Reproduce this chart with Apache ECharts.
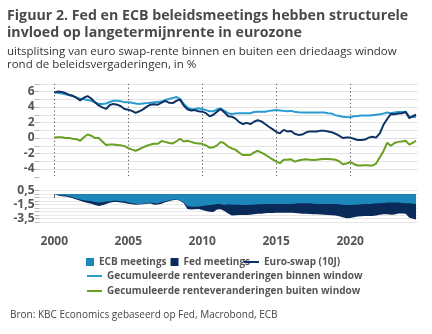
<!DOCTYPE html>
<html>
<head>
<meta charset="utf-8">
<script src="https://cdn.jsdelivr.net/npm/echarts@6/dist/echarts.min.js"></script>
<style>html,body{margin:0;padding:0;background:#fff}#c{width:432px;height:334px}</style>
</head>
<body>
<div id="c"></div>
<script>
// Time axis: decimal years (quarterly readings)
const years = [
2000,2000.25,2000.5,2000.75, 2001,2001.25,2001.5,2001.75, 2002,2002.25,2002.5,2002.75,
2003,2003.25,2003.5,2003.75, 2004,2004.25,2004.5,2004.75, 2005,2005.25,2005.5,2005.75,
2006,2006.25,2006.5,2006.75, 2007,2007.25,2007.5,2007.75, 2008,2008.25,2008.5,2008.75,
2009,2009.25,2009.5,2009.75, 2010,2010.25,2010.5,2010.75, 2011,2011.25,2011.5,2011.75,
2012,2012.25,2012.5,2012.75, 2013,2013.25,2013.5,2013.75, 2014,2014.25,2014.5,2014.75,
2015,2015.25,2015.5,2015.75, 2016,2016.25,2016.5,2016.75, 2017,2017.25,2017.5,2017.75,
2018,2018.25,2018.5,2018.75, 2019,2019.25,2019.5,2019.75, 2020,2020.25,2020.5,2020.75,
2021,2021.25,2021.5,2021.75, 2022,2022.25,2022.5,2022.75, 2023,2023.25,2023.5,2023.75,
2024,2024.25,2024.45];

// Euro-swap (10J), %
const swap = [
5.85,6.0,5.95,5.8, 5.55,5.45,5.2,4.85, 5.2,5.4,5.1,4.6,
4.2,3.95,3.75,4.25, 4.4,4.3,4.1,3.75, 3.65,3.5,3.25,3.45,
3.7,4.05,4.3,4.35, 4.3,4.55,4.8,4.55, 4.5,4.8,4.95,4.2,
3.7,3.55,3.6,3.45, 3.4,3.2,2.8,3.0, 3.4,3.75,3.3,2.8,
2.75,2.5,2.05,1.8, 1.95,1.8,2.1,2.3, 2.15,1.8,1.45,1.15,
0.8,0.6,1.05,0.85, 0.9,0.55,0.4,0.45, 0.7,0.85,0.85,0.85,
0.95,0.95,0.85,0.75, 0.55,0.3,0.0,0.05, 0.05,-0.1,-0.25,-0.25,
-0.2,0.05,0.15,0.05, 0.6,1.7,2.45,3.1, 3.05,3.15,3.2,3.35,
2.55,2.85,3.0];

// Gecumuleerde renteveranderingen binnen window
const binnen = [
5.9,5.85,5.75,5.65, 5.55,5.42,5.2,5.05, 5.0,4.9,4.8,4.6,
4.4,4.4,4.45,4.65, 4.8,4.8,4.75,4.6, 4.6,4.55,4.45,4.4,
4.45,4.5,4.55,4.6, 4.65,4.7,4.9,5.05, 5.15,5.3,5.05,4.4,
3.95,3.7,3.75,3.85, 3.75,3.6,3.45,3.45, 3.7,3.8,3.5,3.2,
3.1,3.15,3.2,3.2, 3.2,3.2,3.35,3.4, 3.4,3.4,3.5,3.55,
3.6,3.55,3.5,3.45, 3.5,3.4,3.32,3.3, 3.3,3.3,3.3,3.3,
3.3,3.28,3.2,3.15, 2.95,2.85,2.75,2.7, 2.68,2.8,2.85,2.9,
2.9,2.9,2.95,3.0, 3.05,3.15,3.3,3.2, 3.3,3.35,3.35,3.4,
2.75,2.7,2.7];

// Gecumuleerde renteveranderingen buiten window
const buiten = [
0.05,0.1,0.1,0.0, 0.0,-0.1,-0.15,-0.35, 0.1,0.45,0.3,0.0,
0.0,-0.45,-0.9,-0.85, -0.85,-0.9,-0.95,-1.05, -1.3,-1.5,-1.65,-1.45,
-1.2,-1.0,-0.85,-0.75, -0.75,-0.4,-0.5,-0.65, -0.7,-0.45,-0.1,-0.45,
-0.35,-0.5,-0.65,-0.7, -0.75,-0.95,-1.25,-1.2, -0.95,-0.5,-0.7,-1.1,
-1.35,-1.5,-1.9,-2.2, -2.2,-2.2,-1.85,-1.65, -1.9,-2.15,-2.45,-2.75,
-3.05,-3.25,-2.8,-2.8, -2.75,-3.05,-2.9,-2.8, -2.75,-2.8,-2.85,-2.8,
-2.75,-2.7,-2.7,-2.75, -2.8,-3.0,-3.4,-3.3, -3.1,-3.35,-3.55,-3.55,
-3.5,-3.55,-3.55,-3.3, -2.5,-1.7,-0.6,-1.0, -0.65,-0.5,-0.45,-0.35,
-0.85,-0.6,-0.35];

// ECB meetings (cumulative contribution)
const ecb = [
0,-0.1,-0.15,-0.2, -0.3,-0.45,-0.6,-0.75, -0.85,-0.95,-1.0,-1.1,
-1.2,-1.15,-1.05,-1.0, -0.95,-0.95,-1.0,-1.05, -1.15,-1.3,-1.35,-1.4,
-1.35,-1.25,-1.2,-1.3, -1.3,-1.15,-1.0,-0.9, -0.75,-0.75,-0.85,-1.2,
-1.7,-1.8,-1.8,-1.75, -1.7,-1.6,-1.55,-1.5, -1.4,-1.45,-1.55,-1.45,
-1.5,-1.5,-1.5,-1.55, -1.55,-1.5,-1.5,-1.45, -1.45,-1.4,-1.4,-1.4,
-1.4,-1.4,-1.4,-1.4, -1.4,-1.35,-1.3,-1.3, -1.3,-1.3,-1.35,-1.4,
-1.4,-1.4,-1.4,-1.4, -1.4,-1.45,-1.5,-1.55, -1.55,-1.5,-1.5,-1.45,
-1.4,-1.4,-1.35,-1.3, -1.3,-1.25,-1.2,-1.2, -1.2,-1.2,-1.25,-1.3,
-1.3,-1.35,-1.4];

// Fed meetings (cumulative contribution, stacked under ECB)
const fed = [
0,-0.1,-0.13,-0.13, -0.15,-0.13,-0.15,-0.18, -0.25,-0.3,-0.38,-0.45,
-0.48,-0.43,-0.35,-0.22, -0.15,-0.15,-0.18,-0.2, -0.2,-0.15,-0.17,-0.08,
-0.07,-0.1,-0.12,-0.2, -0.18,-0.2,-0.15,-0.1, -0.1,-0.05,-0.08,-0.1,
-0.4,-0.4,-0.35,-0.35, -0.55,-0.8,-0.95,-1.05, -0.8,-0.7,-0.85,-1.3,
-1.55,-1.5,-1.47,-1.42, -1.42,-1.45,-1.38,-1.35, -1.33,-1.33,-1.3,-1.28,
-1.25,-1.25,-1.25,-1.24, -1.25,-1.35,-1.43,-1.48, -1.5,-1.53,-1.5,-1.47,
-1.5,-1.53,-1.57,-1.6, -1.65,-1.7,-1.8,-1.9, -1.85,-1.8,-1.7,-1.7,
-1.7,-1.7,-1.75,-1.75, -1.65,-1.6,-1.65,-1.75, -1.7,-1.55,-1.5,-1.48,
-2.05,-2.15,-2.2];

const yearTicks = [2000, 2005, 2010, 2015, 2020];
const topLabels = [6, 4, 2, 0, -2, -4];
const bottomLabels = [0.5, -1.5, -3.5];

const C_ECB = '#1d87b9', C_FED = '#0a2b5a', C_SWAP = '#0d3263', C_BIN = '#2a9bd1', C_BUI = '#69a022';
const FONT = 'Open Sans';
const zip = (xs, ys) => xs.map((x, i) => [x, ys[i]]);
// Fed area is stacked below the ECB area: its lower edge is the sum of both contributions
const fedStackEdge = ecb.map((v, i) => v + fed[i]);
const SQ = 'path://M0,0H8V8H0Z';
const LN = 'path://M0,0H15V2H0Z';

const chart = echarts.init(document.getElementById('c'), null, {renderer: 'canvas'});
const legendText = {fontSize: 10, fontWeight: 'bold', color: '#555', fontFamily: FONT};
const legendBase = {padding: 0, selectedMode: false, textStyle: legendText, itemStyle: {borderWidth: 0}};
chart.setOption({
  animation: false,
  textStyle: {fontFamily: FONT},
  title: [
    {text: 'Figuur 2. Fed en ECB beleidsmeetings hebben structurele\ninvloed op langetermijnrente in eurozone',
     left: 7, top: 7, padding: 0,
     textStyle: {fontSize: 14.2, fontWeight: 'bold', color: '#4a4a4a', lineHeight: 17, fontFamily: FONT}},
    {text: 'uitsplitsing van euro swap-rente binnen en buiten een driedaags window\nrond de beleidsvergaderingen, in %',
     left: 7, top: 45, padding: 0,
     textStyle: {fontSize: 11.5, fontWeight: 'normal', color: '#333', lineHeight: 13.3, fontFamily: FONT}},
    {text: 'Bron: KBC Economics gebaseerd op Fed, Macrobond, ECB',
     left: 10, top: 310, padding: 0,
     textStyle: {fontSize: 10, fontWeight: 'normal', color: '#444', fontFamily: FONT}}
  ],
  legend: [
    Object.assign({data: [{name: 'ECB meetings', icon: SQ}, {name: 'Fed meetings', icon: SQ}], left: 86, top: 257,
     itemWidth: 8, itemHeight: 8, itemGap: 4}, legendBase),
    Object.assign({data: [{name: 'Euro-swap (10J)', icon: LN}], left: 244, top: 257,
     itemWidth: 15, itemHeight: 8}, legendBase),
    Object.assign({data: [{name: 'Gecumuleerde renteveranderingen binnen window', icon: LN}], left: 87, top: 271,
     itemWidth: 15, itemHeight: 8}, legendBase),
    Object.assign({data: [{name: 'Gecumuleerde renteveranderingen buiten window', icon: LN}], left: 87, top: 286,
     itemWidth: 15, itemHeight: 8}, legendBase)
  ],
  grid: [
    {left: 39.5, right: 14.5, top: 83.75, height: 93},
    {left: 39.5, right: 14.5, top: 190.7, height: 31.5}
  ],
  xAxis: [
    {type: 'value', gridIndex: 0, min: 1999, max: 2024.55, show: false},
    {type: 'value', gridIndex: 1, min: 1999, max: 2024.55, offset: 7,
     axisLine: {show: false}, splitLine: {show: false},
     axisTick: {show: true, length: 4, lineStyle: {color: '#666'}, customValues: yearTicks},
     axisLabel: {customValues: yearTicks, margin: 6, fontSize: 12, fontWeight: 'bold', color: '#555',
                 fontFamily: FONT, formatter: v => String(v)}}
  ],
  yAxis: [
    {type: 'value', gridIndex: 0, min: -5, max: 7, interval: 1,
     axisLine: {show: false},
     axisTick: {show: true, length: 5, lineStyle: {color: '#bbb'}},
     axisLabel: {margin: 5, fontSize: 12, fontWeight: 'bold', color: '#555', fontFamily: FONT,
                 formatter: v => topLabels.includes(v) ? String(v) : ''},
     splitLine: {show: true, lineStyle: {color: ['rgba(0,0,0,0)', '#e4e4e4', '#e4e4e4', '#e4e4e4', '#e4e4e4', '#e4e4e4',
       '#e4e4e4', '#e4e4e4', '#e4e4e4', '#e4e4e4', '#e4e4e4', '#e4e4e4', '#e4e4e4'], width: 1}}},
    {type: 'value', gridIndex: 1, min: -4, max: 0.5, interval: 0.5,
     axisLine: {show: false},
     axisTick: {show: true, length: 5, lineStyle: {color: '#bbb'}},
     axisLabel: {margin: 5, fontSize: 12, fontWeight: 'bold', color: '#555', fontFamily: FONT,
                 formatter: v => bottomLabels.includes(v) ? String(v).replace('.', ',') : ''},
     splitLine: {show: true, lineStyle: {color: '#e8e8e8', width: 1}}}
  ],
  series: [
    {name: 'Fed meetings', type: 'line', xAxisIndex: 1, yAxisIndex: 1, data: zip(years, fedStackEdge),
     showSymbol: false, color: C_FED, lineStyle: {width: 0}, areaStyle: {color: C_FED, opacity: 1}, z: 2},
    {name: 'ECB meetings', type: 'line', xAxisIndex: 1, yAxisIndex: 1, data: zip(years, ecb),
     showSymbol: false, color: C_ECB, lineStyle: {width: 0}, areaStyle: {color: C_ECB, opacity: 1}, z: 3},
    {name: 'yearMarkers', type: 'custom', xAxisIndex: 0, yAxisIndex: 0, silent: true,
     data: yearTicks.map(y => [y, 7, -5]),
     encode: {x: 0, y: [1, 2]},
     renderItem: (params, api) => {
       const p1 = api.coord([api.value(0), api.value(1)]);
       const p2 = api.coord([api.value(0), api.value(2)]);
       const x = Math.round(p1[0]) + 0.5;
       return {type: 'line', shape: {x1: x, y1: p1[1], x2: x, y2: p2[1]},
               style: {stroke: '#555', lineWidth: 1, lineDash: [1.2, 2.6]}};
     }},
    {name: 'Gecumuleerde renteveranderingen binnen window', type: 'line', xAxisIndex: 0, yAxisIndex: 0,
     data: zip(years, binnen), showSymbol: false, color: C_BIN, lineStyle: {width: 2, color: C_BIN}},
    {name: 'Euro-swap (10J)', type: 'line', xAxisIndex: 0, yAxisIndex: 0, data: zip(years, swap),
     showSymbol: false, color: C_SWAP, lineStyle: {width: 2, color: C_SWAP}},
    {name: 'Gecumuleerde renteveranderingen buiten window', type: 'line', xAxisIndex: 0, yAxisIndex: 0,
     data: zip(years, buiten), showSymbol: false, color: C_BUI, lineStyle: {width: 2, color: C_BUI}}
  ]
});
</script>
</body>
</html>
